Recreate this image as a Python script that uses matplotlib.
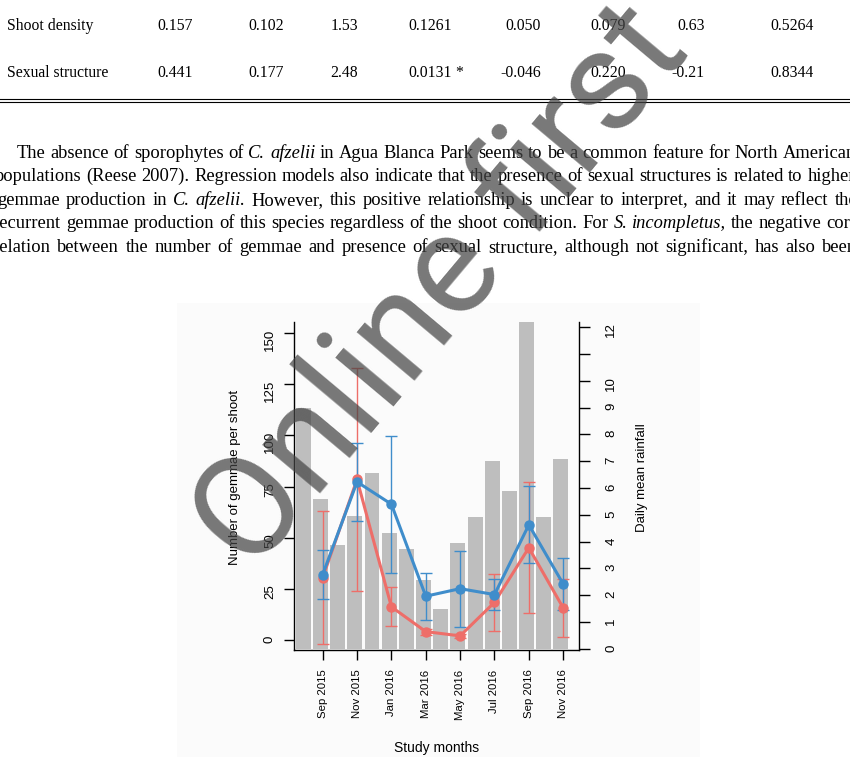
import matplotlib
matplotlib.use("Agg")
import matplotlib.pyplot as plt
import numpy as np
from matplotlib.lines import Line2D
from matplotlib.patches import Rectangle

plt.rcParams['font.family'] = ['Liberation Sans', 'DejaVu Sans']

W, H = 850, 757

def fx(px):
    return px / W

def fy(py):
    return 1 - py / H

# table rows above the text
row_names = ["Shoot density", "Sexual structure"]
shoot_density = ["0.157", "0.102", "1.53", "0.1261", "0.050", "0.079", "0.63", "0.5264"]
sexual_structure = ["0.441", "0.177", "2.48", "0.0131 *", "-0.046", "0.220", "-0.21", "0.8344"]

# paragraph, one list of (text, italic) per printed line
paragraph = [
    [("The absence of sporophytes of ", False), ("C. afzelii", True),
     (" in Agua Blanca Park seems to be a common feature for North American", False)],
    [("populations (Reese 2007). Regression models also indicate that the presence of sexual structures is related to higher", False)],
    [("gemmae production in ", False), ("C. afzelii.", True),
     (" However, this positive relationship is unclear to interpret, and it may reflect the", False)],
    [("recurrent gemmae production of this species regardless of the shoot condition. For ", False),
     ("S. incompletus,", True), (" the negative cor-", False)],
    [("relation between the number of gemmae and presence of sexual structure, although not significant, has also been", False)],
]

# chart data
months = ["Aug 2015", "Sep 2015", "Oct 2015", "Nov 2015", "Dec 2015", "Jan 2016",
          "Feb 2016", "Mar 2016", "Apr 2016", "May 2016", "Jun 2016", "Jul 2016",
          "Aug 2016", "Sep 2016", "Oct 2016", "Nov 2016"]
rainfall = [8.97, 5.58, 3.87, 4.96, 6.57, 4.31, 3.72, 2.57, 1.48, 3.96, 4.91, 7.02,
            5.90, 13.0, 4.91, 7.09]

sample_months = ["Sep 2015", "Nov 2015", "Jan 2016", "Mar 2016", "May 2016",
                 "Jul 2016", "Sep 2016", "Nov 2016"]
gemmae_blue = [32.0, 77.3, 66.4, 21.4, 25.1, 22.2, 56.3, 27.4]
sd_blue = [11.8, 18.9, 33.5, 11.4, 18.6, 7.4, 18.8, 12.8]
gemmae_red = [30.5, 78.5, 16.2, 4.1, 2.0, 18.4, 45.1, 15.7]
sd_red = [32.6, 54.5, 9.5, 1.5, 1.0, 13.9, 32.0, 14.2]

red = '#EE6E69'
blue = '#3F8DCB'

fig = plt.figure(figsize=(8.5, 7.57), dpi=100)
fig.patch.set_facecolor('white')
renderer = fig.canvas.get_renderer()

# faint panel behind the figure
fig.add_artist(Rectangle((fx(177), fy(757)), fx(700) - fx(177), fy(303) - fy(757),
                         transform=fig.transFigure, facecolor='#fbfbfb',
                         edgecolor='none', zorder=-1))

# ---- table ----
col_right = [193, 284, 358, 452, 541, 626, 705, 814]
for yb, name, vals in [(30, row_names[0], shoot_density), (77, row_names[1], sexual_structure)]:
    fig.text(fx(7), fy(yb), name, family='Liberation Serif', fontsize=11.3, va='baseline')
    for xr, v in zip(col_right, vals):
        num, _, suffix = v.partition(' ')
        fig.text(fx(xr), fy(yb), num, family='Liberation Serif', fontsize=11.3,
                 va='baseline', ha='right')
        if suffix:
            fig.text(fx(xr), fy(yb), ' ' + suffix, family='Liberation Serif',
                     fontsize=11.3, va='baseline', ha='left')

for yl in (98.5, 101.5):
    fig.add_artist(Line2D([0, 1], [fy(yl), fy(yl)], transform=fig.transFigure,
                          color='black', lw=0.8))

# ---- justified paragraph ----
line_left = [17, -5, -3, -6, -6]
line_right = [856, 855, 857, 856, 857]
baselines = [158, 181, 205, 228, 252]

def words_of(segments):
    out = []
    for text, italic in segments:
        for w in text.split():
            out.append((w, italic))
    return out

def measure(word, italic, size):
    t = fig.text(0, 0, word, family='Liberation Serif', fontsize=size,
                 style='italic' if italic else 'normal')
    w = t.get_window_extent(renderer).width
    t.remove()
    return w

base = 12.0
ratio = []
for segs, l, r in zip(paragraph, line_left, line_right):
    ws = words_of(segs)
    natural = sum(measure(w, it, base) for w, it in ws) + (len(ws) - 1) * 0.25 * base * 100 / 72
    ratio.append((r - l) / natural)
size = base * min(ratio)

for segs, l, r, yb in zip(paragraph, line_left, line_right, baselines):
    ws = words_of(segs)
    widths = [measure(w, it, size) for w, it in ws]
    gap = (r - l - sum(widths)) / (len(ws) - 1)
    x = l
    for (w, it), wd in zip(ws, widths):
        fig.text(fx(x), fy(yb), w, family='Liberation Serif', fontsize=size,
                 style='italic' if it else 'normal', va='baseline')
        x += wd + gap

# ---- chart ----
ax = fig.add_axes([fx(294), fy(650), fx(579) - fx(294), fy(322) - fy(650)])
ax.set_facecolor('none')
x_month = np.arange(len(months))
ax.bar(x_month, rainfall, width=0.87, color='#BEBEBE', linewidth=0)
ax.set_xlim(-0.54, 16.05)
ax.set_ylim(-0.04, 12.19)
ax.spines['top'].set_visible(False)
for s in ('left', 'bottom', 'right'):
    ax.spines[s].set_linewidth(1.0)

x_sample = np.array([months.index(m) for m in sample_months]) + 0.13
ax.set_xticks(x_sample)
ax.set_xticklabels(sample_months)
ax.tick_params(axis='x', direction='out', length=7, width=1, pad=7,
               labelsize=8.2, labelrotation=90)

ax2 = ax.twinx()
ax2.set_ylim(-4.9, 155.5)
ax2.set_yticks(np.arange(0, 151, 25))
for s in ax2.spines.values():
    s.set_visible(False)
ax2.yaxis.tick_left()
ax2.tick_params(axis='y', direction='out', length=7, width=1, pad=6,
                labelsize=9.5, labelrotation=90)

# rainfall scale goes on the right (twinx put it on the left)
ax.yaxis.tick_right()
ax.set_yticks(range(13))
ax.set_yticklabels([str(v) if v != 11 else '' for v in range(13)])
ax.tick_params(axis='y', direction='out', length=8, width=1, pad=11,
               labelsize=9.5, labelrotation=90)

ax2.errorbar(x_sample, gemmae_red, yerr=sd_red, fmt='none', ecolor=red,
             elinewidth=1, capsize=4, capthick=1)
ax2.errorbar(x_sample, gemmae_blue, yerr=sd_blue, fmt='none', ecolor=blue,
             elinewidth=1, capsize=4, capthick=1)
ax2.plot(x_sample, gemmae_red, '-o', color=red, lw=2.2, ms=6.5)
ax2.plot(x_sample, gemmae_blue, '-o', color=blue, lw=2.2, ms=6.5)

ax.text(-0.207, 0.527, "Number of gemmae per shoot", transform=ax.transAxes,
        rotation=90, ha='center', va='center', fontsize=9.5)
ax.text(1.221, 0.527, "Daily mean rainfall", transform=ax.transAxes,
        rotation=90, ha='center', va='center', fontsize=9.5)
ax.text(0.5, -0.299, "Study months", transform=ax.transAxes,
        ha='center', va='center', fontsize=10)

# watermark
fig.text(fx(442), fy(288), "Online first", rotation=50, fontsize=102,
         family=['Roboto', 'Liberation Sans'], fontweight='normal',
         color='#444444', alpha=0.72, ha='center',
         va='center', rotation_mode='anchor', zorder=10)

fig.savefig("out.png", dpi=100)
